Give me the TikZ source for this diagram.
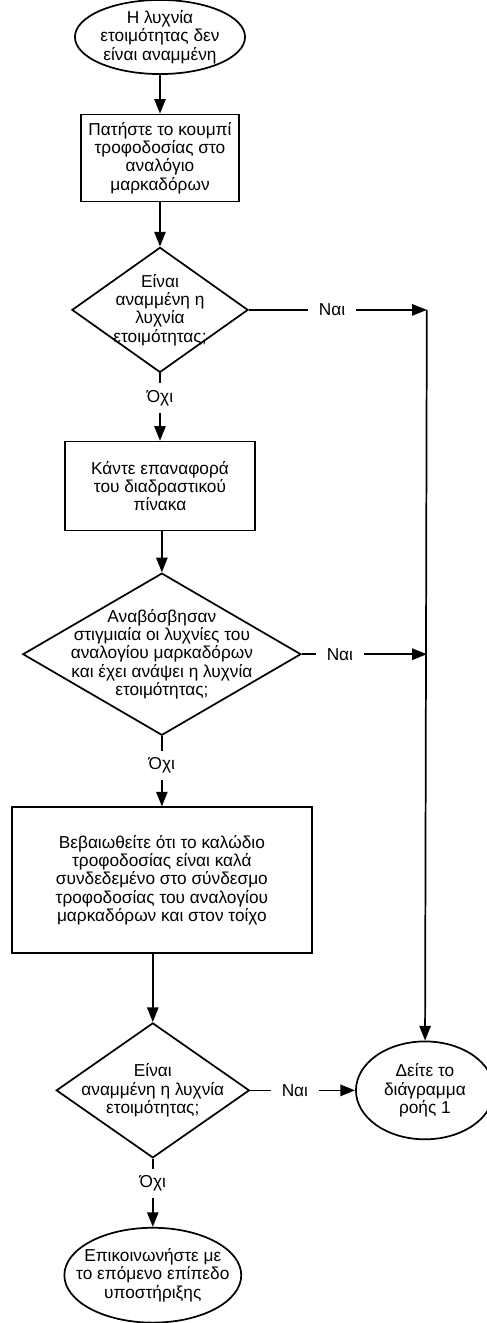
\documentclass[tikz,border=0pt]{standalone}
\usepackage{fontspec}
\setmainfont{Liberation Sans}
\usetikzlibrary{shapes.geometric,arrows.meta}

\begin{document}
\begin{tikzpicture}[
    font=\fontsize{13}{13.8}\selectfont,
    terminal/.style={ellipse, draw=black, line width=1.3pt, inner sep=-1cm, align=center},
    process/.style={rectangle, draw=black, line width=1.3pt, inner sep=2pt, align=center},
    decision/.style={diamond, draw=black, line width=1.3pt, inner sep=-1cm, align=center},
    answer/.style={inner xsep=8pt, inner ysep=5pt},
    line/.style={line width=1.3pt},
    arrow/.style={->,>={Triangle[length=11pt,width=8.5pt]},line width=1.3pt}
]
\useasboundingbox[fill=white] (-4.233,0.979) rectangle (8.626,-34.025);

% Start
\node (start) [terminal, minimum width=4.5cm, minimum height=1.96cm] {Η λυχνία\\ετοιμότητας δεν\\είναι αναμμένη};

% Power button
\node (press) [process, below of=start, yshift=-2.2cm, minimum width=4.18cm, minimum height=2.3cm] {Πατήστε το κουμπί\\τροφοδοσίας στο\\αναλόγιο\\μαρκαδόρων};
\node (dec1) [decision, below of=press, yshift=-3.02cm, minimum width=4.66cm, minimum height=3.31cm] {Είναι\\αναμμένη η\\λυχνία\\ετοιμότητας;};
\node (no1) [answer, below of=dec1, yshift=-1.33cm] {Όχι};
\node (yes1) [answer, right of=dec1, xshift=3.55cm] {Ναι};
\coordinate [right of=dec1, xshift=6.06cm] (c1);

% Reset
\node (reset) [process, below of=no1, yshift=-1.33cm, minimum width=5.03cm, minimum height=2.35cm] {Κάντε επαναφορά\\του διαδραστικού\\πίνακα};
\node (dec2) [decision, below of=reset, xshift=0.05cm, yshift=-3.45cm, minimum width=7.36cm, minimum height=4.29cm] {Αναβόσβησαν\\στιγμιαία οι λυχνίες του\\αναλογίου μαρκαδόρων\\και έχει ανάψει η λυχνία\\ετοιμότητας;};
\node (no2) [answer, below of=dec2, yshift=-1.94cm] {Όχι};
\node (yes2) [answer, right of=dec2, xshift=3.71cm] {Ναι};
\coordinate [right of=dec2, xshift=6.01cm] (c2);

% Cable
\node (check) [process, below of=no2, yshift=-2.04cm, minimum width=7.94cm, minimum height=3.86cm] {Βεβαιωθείτε ότι το καλώδιο\\τροφοδοσίας είναι καλά\\συνδεδεμένο στο σύνδεσμο\\τροφοδοσίας του αναλογίου\\μαρκαδόρων και στον τοίχο};
\node (dec3) [decision, below of=check, xshift=-0.24cm, yshift=-4.56cm, minimum width=5.11cm, minimum height=3.57cm] {Είναι\\αναμμένη η λυχνία\\ετοιμότητας;};
\node (no3) [answer, below of=dec3, yshift=-1.46cm] {Όχι};
\node (yes3) [answer, right of=dec3, xshift=2.76cm] {Ναι};

% Ends
\node (flow1) [terminal, right of=dec3, xshift=6.2cm, minimum width=3.65cm, minimum height=2.59cm] {Δείτε το\\διάγραμμα\\ροής 1};
\node (support) [terminal, below of=no3, yshift=-1.43cm, minimum width=4.68cm, minimum height=2.51cm] {Επικοινωνήστε με\\το επόμενο επίπεδο\\υποστήριξης};

% Arrows
\draw[arrow] (start) -- (press);
\draw[arrow] (press) -- (dec1);
\draw[line] (dec1) -- (no1);
\draw[arrow] (no1) -- (reset);
\draw[line] (dec1) -- (yes1);
\draw[arrow] (yes1) -- (c1);
\draw[arrow] (c1) -- (flow1);
\draw[arrow] (reset.south -| dec2) -- (dec2);
\draw[line] (dec2) -- (no2);
\draw[arrow] (no2) -- (check.north -| no2);
\draw[line] (dec2) -- (yes2);
\draw[arrow] (yes2) -- (c2);
\draw[arrow] (check.south -| dec3) -- (dec3);
\draw[line] (dec3) -- (no3);
\draw[arrow] (no3) -- (support);
\draw[line] (dec3) -- (yes3);
\draw[arrow] (yes3) -- (flow1);

\end{tikzpicture}
\end{document}
